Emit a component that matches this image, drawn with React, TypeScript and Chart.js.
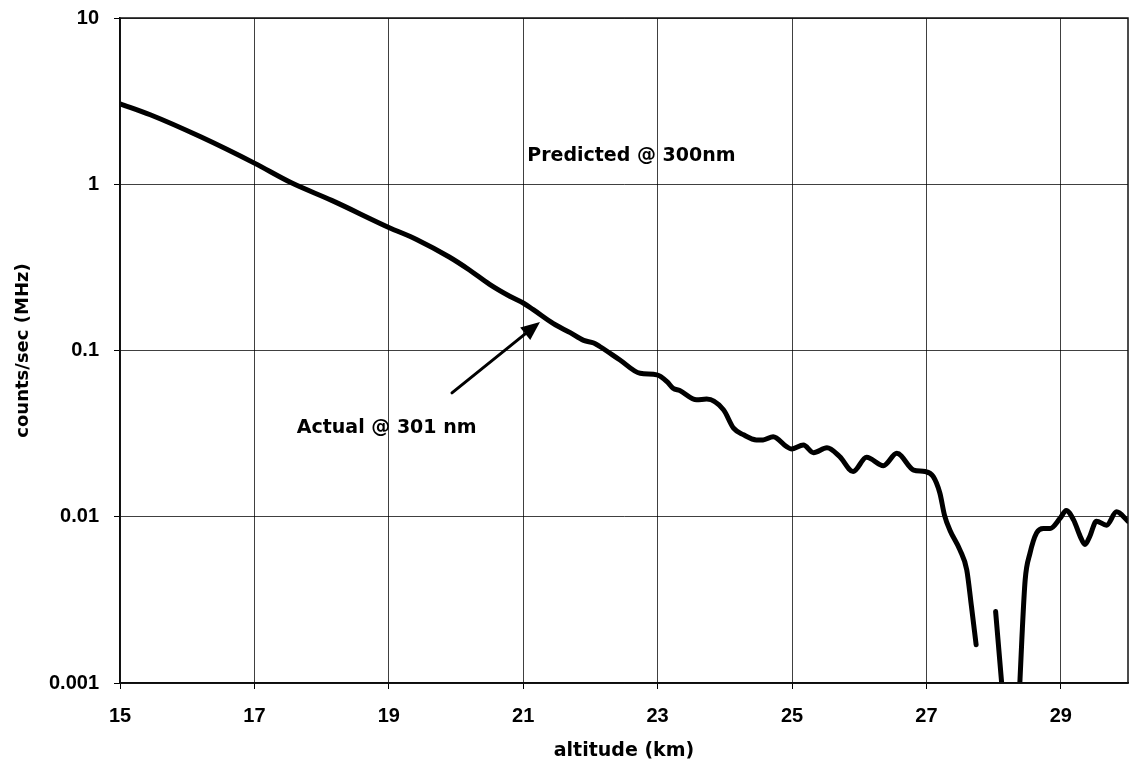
import { useEffect, useRef } from 'react';
import { Chart, registerables } from 'chart.js';

Chart.register(...registerables);

// altitude (km); null counts mark breaks in the measured trace
const altitudeKm = [
  15.0, 15.45, 16.2, 17.0, 17.55, 18.15, 19.0, 19.42, 19.9, 20.2, 20.5, 20.8,
  21.0, 21.15, 21.45, 21.7, 21.9, 22.05, 22.14, 22.44, 22.74, 22.99, 23.14, 23.23,
  23.33, 23.58, 23.73, 23.98, 24.13, 24.28, 24.47, 24.57, 24.72, 24.92, 24.99, 25.17,
  25.32, 25.52, 25.71, 25.91, 26.11, 26.36, 26.56, 26.81, 26.98, 27.1, 27.2, 27.27,
  27.35, 27.5, 27.6, 27.67, 27.74,
  27.9,
  28.03, 28.14,
  28.25,
  28.38, 28.42, 28.47, 28.54, 28.64, 28.74, 28.84, 28.99, 29.08, 29.19, 29.29, 29.36,
  29.43, 29.53, 29.68, 29.83, 30.0,
];

const countsMHz = [
  3.05, 2.62, 1.93, 1.34, 1.02, 0.8, 0.55, 0.464, 0.365, 0.305, 0.25, 0.212,
  0.193, 0.176, 0.145, 0.128, 0.115, 0.111, 0.1057, 0.0877, 0.0729, 0.0713, 0.065, 0.0593,
  0.0574, 0.0505, 0.051, 0.044, 0.0341, 0.0311, 0.029, 0.029, 0.0303, 0.0264, 0.0256, 0.027,
  0.0243, 0.026, 0.023, 0.0187, 0.0228, 0.0203, 0.0241, 0.0191, 0.0187, 0.0175, 0.0139, 0.0102,
  0.0083, 0.0063, 0.0048, 0.0029, 0.0017,
  null,
  0.00269, 0.0008,
  null,
  0.0008, 0.00182, 0.00418, 0.006, 0.008, 0.0085, 0.0085, 0.0098, 0.0109, 0.00957, 0.0076, 0.0068,
  0.0076, 0.0094, 0.0089, 0.0107, 0.0094,
];

const xTickValues = [15, 17, 19, 21, 23, 25, 27, 29];
const yTickValues = [0.001, 0.01, 0.1, 1, 10];
const yTickLabels = ['0.001', '0.01', '0.1', '1', '10'];

const xAxisTitle = 'altitude (km)';
const yAxisTitle = 'counts/sec (MHz)';
const predictedLabel = 'Predicted @ 300nm';
const actualLabel = 'Actual @ 301 nm';

const TICK_FONT = { family: '"Liberation Sans", Arial, sans-serif', size: 20, weight: 'bold' as const };
const TITLE_FAMILY = '"DejaVu Sans", sans-serif';

const annotationPlugin = {
  id: 'annotations',
  afterDatasetsDraw(chart: any) {
    const { ctx, chartArea, scales } = chart;
    const x = scales.x;
    const y = scales.y;
    ctx.save();
    // plot frame
    ctx.strokeStyle = '#111';
    ctx.lineWidth = 1.5;
    ctx.strokeRect(chartArea.left, chartArea.top, chartArea.right - chartArea.left, chartArea.bottom - chartArea.top);

    // labels
    ctx.fillStyle = '#000';
    ctx.font = `bold 19px ${TITLE_FAMILY}`;
    ctx.textAlign = 'left';
    ctx.textBaseline = 'alphabetic';
    ctx.fillText(predictedLabel, x.getPixelForValue(21.06), y.getPixelForValue(1.38));
    ctx.fillText(actualLabel, x.getPixelForValue(17.63), y.getPixelForValue(0.0319));

    // arrow
    const x0 = x.getPixelForValue(19.94);
    const y0 = y.getPixelForValue(0.0556);
    const x1 = x.getPixelForValue(21.25);
    const y1 = y.getPixelForValue(0.1486);
    const ang = Math.atan2(y1 - y0, x1 - x0);
    const headLen = 19;
    const headHalf = 8;
    const bx = x1 - headLen * Math.cos(ang);
    const by = y1 - headLen * Math.sin(ang);
    ctx.strokeStyle = '#000';
    ctx.lineWidth = 3;
    ctx.lineCap = 'round';
    ctx.beginPath();
    ctx.moveTo(x0, y0);
    ctx.lineTo(bx, by);
    ctx.stroke();
    ctx.beginPath();
    ctx.moveTo(x1, y1);
    ctx.lineTo(bx + headHalf * Math.sin(ang), by - headHalf * Math.cos(ang));
    ctx.lineTo(bx - headHalf * Math.sin(ang), by + headHalf * Math.cos(ang));
    ctx.closePath();
    ctx.fill();
    ctx.restore();
  },
};

export default function App() {
  const canvasRef = useRef<HTMLCanvasElement | null>(null);

  useEffect(() => {
    if (!canvasRef.current) return;
    const points = altitudeKm.map((a, i) => ({ x: a, y: countsMHz[i] }));
    const chart = new Chart(canvasRef.current, {
      type: 'line',
      data: {
        datasets: [
          {
            label: 'counts',
            data: points as any,
            borderColor: '#000',
            backgroundColor: '#000',
            borderWidth: 5,
            pointRadius: 0,
            spanGaps: false,
            cubicInterpolationMode: 'monotone',
            borderCapStyle: 'round',
            borderJoinStyle: 'round',
            clip: 0 as any,
          },
        ],
      },
      options: {
        animation: false,
        responsive: true,
        maintainAspectRatio: false,
        layout: { padding: { top: 18, right: 5, bottom: 0, left: 0 } },
        plugins: {
          legend: { display: false },
          tooltip: { enabled: false },
        },
        scales: {
          x: {
            type: 'linear',
            min: 15,
            max: 30,
            afterBuildTicks: (scale: any) => {
              scale.ticks = xTickValues.map((v) => ({ value: v }));
            },
            afterFit: (scale: any) => {
              scale.height = 83;
              scale.paddingLeft = 0;
              scale.paddingRight = 0;
            },
            ticks: {
              font: TICK_FONT,
              color: '#000',
              padding: 15,
              maxRotation: 0,
              autoSkip: false,
              callback: (v: any) => String(v),
            },
            grid: {
              color: 'rgba(0,0,0,0.75)',
              lineWidth: 1,
              tickLength: 6,
              tickColor: '#000',
            },
            border: { color: '#000', width: 1.5 },
            title: {
              display: true,
              text: xAxisTitle,
              color: '#000',
              font: { family: TITLE_FAMILY, size: 19, weight: 'bold' },
              padding: { top: 0, bottom: 4 },
            },
          },
          y: {
            type: 'logarithmic',
            min: 0.001,
            max: 10,
            afterBuildTicks: (scale: any) => {
              scale.ticks = yTickValues.map((v) => ({ value: v }));
            },
            afterFit: (scale: any) => {
              scale.width = 120;
              scale.paddingTop = 0;
              scale.paddingBottom = 0;
            },
            ticks: {
              font: TICK_FONT,
              color: '#000',
              padding: 15,
              autoSkip: false,
              callback: (v: any) => {
                const i = yTickValues.findIndex((t) => Math.abs(t - Number(v)) < t * 1e-6);
                return i >= 0 ? yTickLabels[i] : '';
              },
            },
            grid: {
              color: 'rgba(0,0,0,0.75)',
              lineWidth: 1,
              tickLength: 6,
              tickColor: '#000',
            },
            border: { color: '#000', width: 1.5 },
            title: {
              display: true,
              text: yAxisTitle,
              color: '#000',
              font: { family: TITLE_FAMILY, size: 18, weight: 'bold' },
              padding: { top: 13, bottom: 0 },
            },
          },
        },
      },
      plugins: [annotationPlugin],
    });
    return () => chart.destroy();
  }, []);

  return (
    <div style={{ position: 'absolute', left: 0, top: 0, width: 1133, height: 766, background: '#fff' }}>
      <canvas ref={canvasRef} />
    </div>
  );
}
